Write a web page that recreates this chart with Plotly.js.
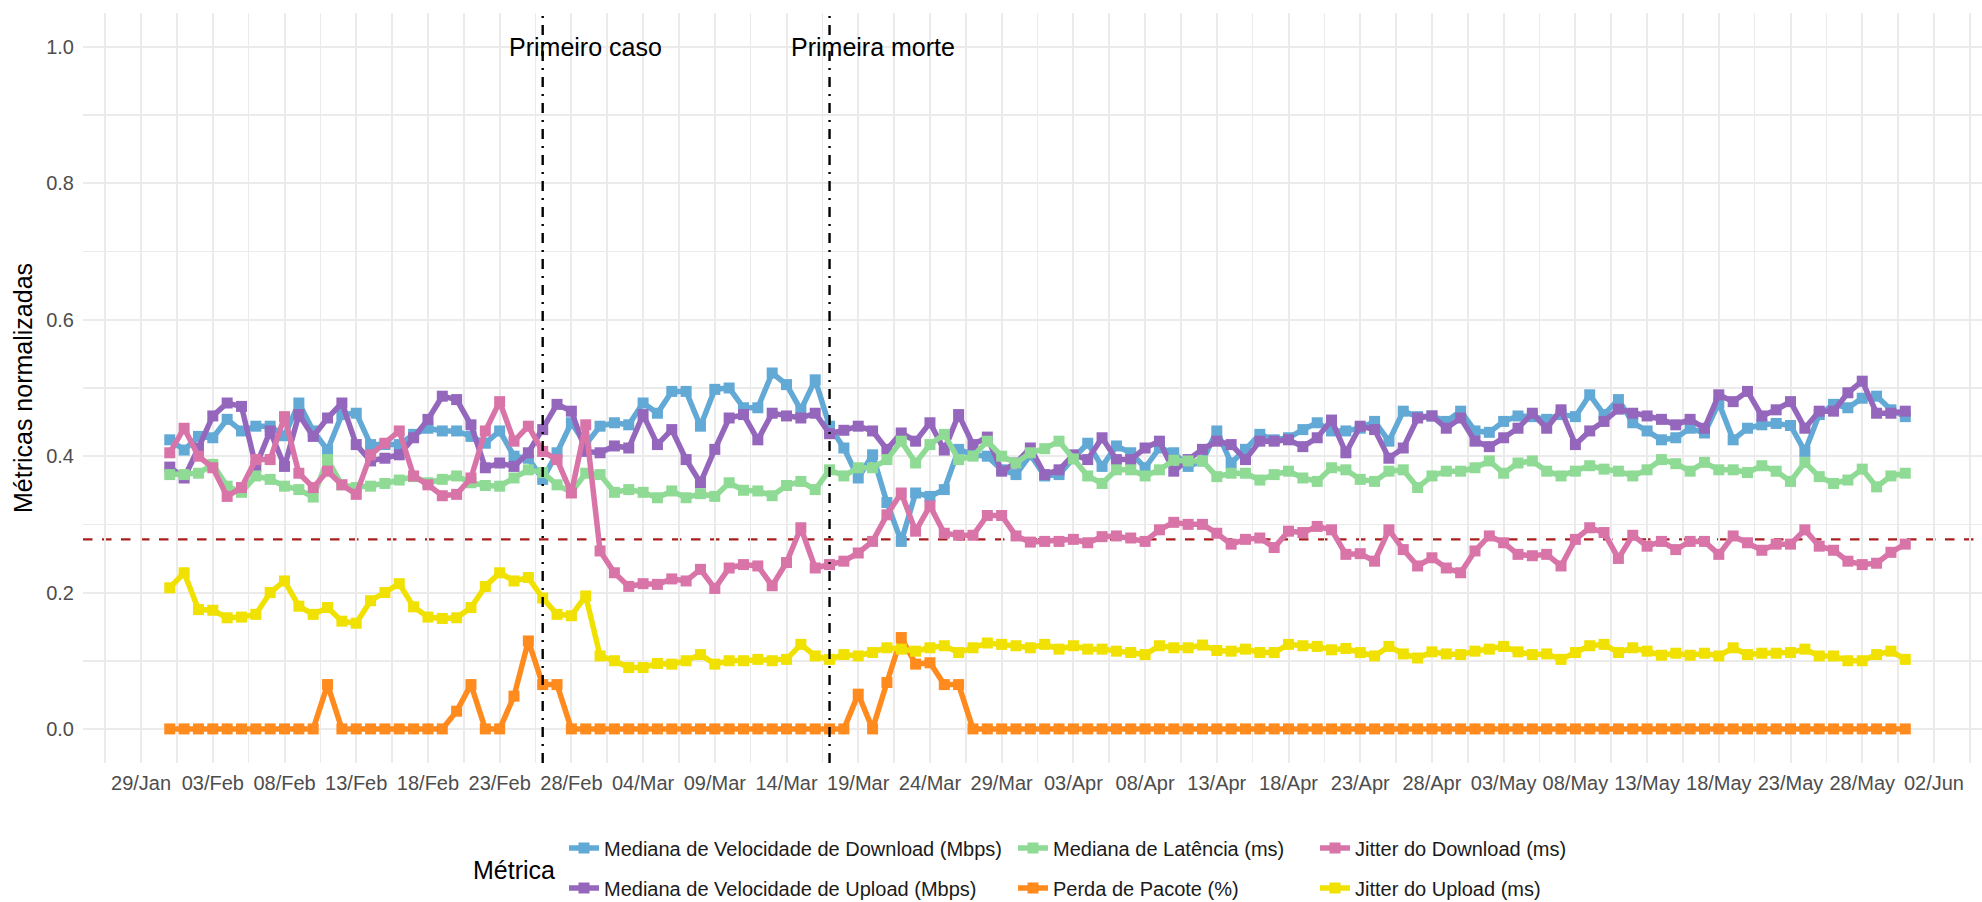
<!DOCTYPE html>
<html>
<head>
<meta charset="utf-8">
<script src="https://cdn.plot.ly/plotly-3.0.1.min.js"></script>
<style>html,body{margin:0;padding:0;background:#fff;}#chart{width:1982px;height:902px;}</style>
</head>
<body>
<div id="chart"></div>
<script>
// Daily dates: 31/Jan/2020 .. 31/May/2020 (122 days)
const startDate = '2020-01-31';
const nDays = 122;

const seriesNames = [
  'Mediana de Velocidade de Download (Mbps)',
  'Mediana de Velocidade de Upload (Mbps)',
  'Mediana de Latência (ms)',
  'Perda de Pacote (%)',
  'Jitter do Download (ms)',
  'Jitter do Upload (ms)'
];

const download = [
  0.424,0.409,0.429,0.427,0.454,0.437,0.444,0.444,0.430,0.478,0.437,0.409,0.461,0.463,0.417,0.417,0.417,0.432,0.441,0.437,0.437,
  0.429,0.419,0.437,0.400,0.397,0.366,0.405,0.449,0.417,0.444,0.449,0.446,0.478,0.463,0.495,0.495,0.444,0.498,0.500,0.471,0.471,0.522,0.505,
  0.468,0.512,0.444,0.412,0.368,0.402,0.332,0.275,0.346,0.341,0.351,0.410,0.402,0.400,0.380,0.373,0.402,0.371,0.373,0.397,0.419,0.385,0.415,
  0.405,0.383,0.412,0.405,0.385,0.393,0.437,0.390,0.410,0.432,0.424,0.427,0.439,0.449,0.437,0.437,0.441,0.451,0.422,0.466,0.458,0.459,0.451,
  0.466,0.437,0.435,0.451,0.459,0.458,0.454,0.461,0.458,0.490,0.461,0.483,0.449,0.437,0.424,0.427,0.441,
  0.434,0.478,0.424,0.441,0.446,0.448,0.445,0.407,0.461,0.476,0.471,0.485,0.488,0.468,0.458
];

const upload = [
  0.384,0.368,0.412,0.459,0.478,0.473,0.385,0.437,0.385,0.461,0.429,0.456,0.478,0.417,0.393,0.397,0.402,0.427,0.454,0.488,0.483,
  0.446,0.383,0.390,0.385,0.405,0.439,0.476,0.466,0.407,0.405,0.415,0.412,0.461,0.417,0.439,0.395,0.361,0.410,0.456,0.461,0.424,0.463,0.459,
  0.456,0.463,0.433,0.438,0.444,0.437,0.410,0.434,0.422,0.449,0.409,0.461,0.417,0.428,0.378,0.390,0.412,0.373,0.380,0.402,0.395,0.427,0.395,
  0.395,0.412,0.422,0.378,0.395,0.410,0.422,0.417,0.395,0.422,0.422,0.424,0.414,0.427,0.453,0.405,0.444,0.439,0.397,0.412,0.456,0.459,0.441,
  0.456,0.422,0.414,0.427,0.441,0.463,0.441,0.468,0.417,0.437,0.451,0.469,0.463,0.459,0.454,0.446,0.454,
  0.441,0.490,0.480,0.495,0.459,0.468,0.480,0.441,0.466,0.466,0.493,0.510,0.463,0.463,0.466
];

const latency = [
  0.373,0.373,0.375,0.388,0.356,0.347,0.371,0.366,0.356,0.351,0.340,0.395,0.358,0.354,0.356,0.360,0.365,0.370,0.361,0.366,0.371,
  0.361,0.357,0.356,0.368,0.380,0.376,0.358,0.347,0.375,0.373,0.347,0.351,0.347,0.339,0.349,0.339,0.345,0.341,0.361,0.350,0.349,0.342,0.357,
  0.363,0.351,0.380,0.371,0.383,0.383,0.395,0.422,0.390,0.417,0.432,0.395,0.400,0.422,0.400,0.390,0.405,0.411,0.422,0.396,0.371,0.360,0.380,
  0.380,0.371,0.380,0.394,0.393,0.393,0.370,0.375,0.375,0.365,0.373,0.378,0.368,0.363,0.383,0.380,0.366,0.363,0.378,0.380,0.354,0.371,0.378,
  0.378,0.383,0.393,0.375,0.390,0.393,0.378,0.371,0.378,0.386,0.381,0.378,0.371,0.380,0.395,0.389,0.378,
  0.391,0.380,0.380,0.376,0.386,0.378,0.363,0.391,0.370,0.360,0.365,0.381,0.355,0.371,0.375
];

const packetLoss = [
  0,0,0,0,0,0,0,0,0,0,0,0.065,0,0,0,0,0,0,0,0,0.026,
  0.065,0,0,0.048,0.129,0.065,0.065,0,0,0,0,0,0,0,0,0,0,0,0,0,0,0,0,
  0,0,0,0,0.051,0,0.068,0.134,0.095,0.097,0.065,0.065,0,0,0,0,0,0,0,0,0,0,0,
  0,0,0,0,0,0,0,0,0,0,0,0,0,0,0,0,0,0,0,0,0,0,0,
  0,0,0,0,0,0,0,0,0,0,0,0,0,0,0,0,0,
  0,0,0,0,0,0,0,0,0,0,0,0,0,0,0
];

const jitterDown = [
  0.405,0.441,0.400,0.383,0.341,0.354,0.395,0.395,0.458,0.375,0.354,0.378,0.358,0.344,0.402,0.419,0.437,0.371,0.358,0.342,0.344,
  0.368,0.437,0.480,0.422,0.444,0.407,0.395,0.346,0.446,0.261,0.229,0.209,0.213,0.212,0.220,0.217,0.234,0.206,0.236,0.241,0.239,0.210,0.244,
  0.295,0.236,0.241,0.246,0.258,0.275,0.314,0.346,0.290,0.327,0.287,0.284,0.284,0.313,0.313,0.283,0.274,0.275,0.275,0.278,0.273,0.282,0.283,
  0.280,0.275,0.292,0.303,0.300,0.300,0.287,0.271,0.278,0.280,0.266,0.290,0.288,0.297,0.292,0.256,0.257,0.246,0.292,0.263,0.239,0.251,0.236,
  0.229,0.261,0.283,0.273,0.256,0.254,0.256,0.239,0.278,0.295,0.288,0.250,0.284,0.268,0.275,0.263,0.275,
  0.275,0.256,0.283,0.273,0.262,0.271,0.271,0.292,0.268,0.262,0.246,0.241,0.243,0.259,0.271
];

const jitterUp = [
  0.207,0.229,0.175,0.174,0.163,0.164,0.168,0.200,0.217,0.180,0.168,0.178,0.158,0.155,0.188,0.200,0.213,0.179,0.164,0.162,0.163,
  0.178,0.209,0.229,0.217,0.222,0.192,0.168,0.166,0.195,0.107,0.100,0.090,0.090,0.096,0.095,0.100,0.109,0.095,0.100,0.100,0.102,0.100,0.102,
  0.124,0.107,0.102,0.109,0.107,0.112,0.119,0.117,0.114,0.119,0.122,0.112,0.119,0.126,0.124,0.122,0.119,0.124,0.117,0.122,0.117,0.117,0.114,
  0.112,0.109,0.122,0.119,0.119,0.123,0.115,0.114,0.117,0.112,0.112,0.124,0.122,0.121,0.116,0.118,0.112,0.107,0.121,0.110,0.104,0.113,0.110,
  0.109,0.114,0.117,0.121,0.113,0.109,0.110,0.102,0.112,0.122,0.124,0.112,0.119,0.114,0.108,0.111,0.108,
  0.111,0.107,0.119,0.109,0.111,0.111,0.112,0.117,0.107,0.107,0.100,0.100,0.109,0.114,0.102
];

const referenceLevel = 0.278;
const eventDates = ['2020-02-26', '2020-03-17'];
const eventLabels = ['Primeiro caso', 'Primeira morte'];
const eventLabelDates = ['2020-02-29', '2020-03-20'];

const colors = ['#62A9D6', '#9467BD', '#8FDB95', '#FF8A1E', '#D874A8', '#F0E100'];

// build date strings
const dates = [];
{
  const d0 = new Date(startDate + 'T00:00:00Z');
  for (let i = 0; i < nDays; i++) {
    const d = new Date(d0.getTime() + i * 86400000);
    dates.push(d.toISOString().slice(0, 10));
  }
}

const FONT = 'Liberation Sans, Arial, Helvetica, sans-serif';
const allSeries = [download, upload, latency, packetLoss, jitterDown, jitterUp];

// legend layout (pixel positions of each entry in the figure)
const legendPos = [
  [564, 848], [564, 888],
  [1013, 848], [1013, 888],
  [1315, 848], [1315, 888]
];

const traces = allSeries.map((ys, i) => ({
  type: 'scatter',
  mode: 'lines+markers',
  x: dates,
  y: ys,
  name: seriesNames[i],
  legend: i === 0 ? 'legend' : 'legend' + (i + 1),
  line: {color: colors[i], width: 5.5},
  marker: {color: colors[i], symbol: 'square', size: 11},
  showlegend: true
}));

const W = 1982, H = 902;
const layout = {
  width: W, height: H,
  margin: {l: 83, r: 0, t: 13, b: 139},
  paper_bgcolor: '#ffffff',
  plot_bgcolor: '#ffffff',
  font: {family: FONT, color: '#000000'},
  xaxis: {
    type: 'date',
    range: ['2020-01-24 22:48', '2020-06-05 08:24'],
    tick0: '2020-01-29',
    dtick: 5 * 86400000,
    tickformat: '%d/%b',
    showgrid: true, gridcolor: '#EBEBEB', gridwidth: 2,
    minor: {tick0: '2020-01-29', dtick: 2.5 * 86400000, showgrid: true, gridcolor: '#EBEBEB', gridwidth: 1.6},
    zeroline: false, showline: false, ticks: '',
    tickfont: {size: 20, color: '#4D4D4D', family: FONT},
    ticklabelstandoff: 6
  },
  yaxis: {
    range: [-0.05, 1.05],
    tick0: 0, dtick: 0.2, tickformat: '.1f',
    showgrid: true, gridcolor: '#EBEBEB', gridwidth: 2,
    minor: {tick0: 0, dtick: 0.1, showgrid: true, gridcolor: '#EBEBEB', gridwidth: 1.6},
    zeroline: false, showline: false, ticks: '',
    tickfont: {size: 20, color: '#4D4D4D', family: FONT},
    ticklabelstandoff: 8,
    title: {text: 'Métricas normalizadas', font: {size: 25, color: '#000000', family: FONT}, standoff: 6}
  },
  shapes: [
    {type: 'line', xref: 'paper', yref: 'y', x0: 0, x1: 1, y0: referenceLevel, y1: referenceLevel,
     line: {color: '#A91E1E', width: 2.4, dash: '9.5px,9.5px'}, layer: 'below'},
    ...eventDates.map(d => ({
      type: 'line', xref: 'x', yref: 'paper', x0: d, x1: d, y0: 0, y1: 1,
      line: {color: '#000000', width: 2.4, dash: '10px,7px,2px,7px'}, layer: 'above'
    }))
  ],
  annotations: [
    ...eventLabels.map((t, i) => ({
      x: eventLabelDates[i], y: 1.0, xref: 'x', yref: 'y', text: t, showarrow: false,
      xanchor: 'center', yanchor: 'middle', font: {size: 25, color: '#000000', family: FONT}
    })),
    {x: (471 - 83) / (W - 83), y: (763 - 870) / 750, xref: 'paper', yref: 'paper', text: 'Métrica', showarrow: false,
     xanchor: 'left', yanchor: 'middle', font: {size: 25, color: '#000000', family: FONT}}
  ],
  showlegend: true
};

legendPos.forEach((p, i) => {
  const key = i === 0 ? 'legend' : 'legend' + (i + 1);
  layout[key] = {
    xref: 'container', yref: 'container',
    x: p[0] / W, y: 1 - p[1] / H,
    xanchor: 'left', yanchor: 'middle',
    orientation: 'h',
    bgcolor: 'rgba(0,0,0,0)', borderwidth: 0,
    font: {size: 20, color: '#1A1A1A', family: FONT}
  };
});

Plotly.newPlot('chart', traces, layout, {staticPlot: true, displayModeBar: false});
</script>
</body>
</html>
